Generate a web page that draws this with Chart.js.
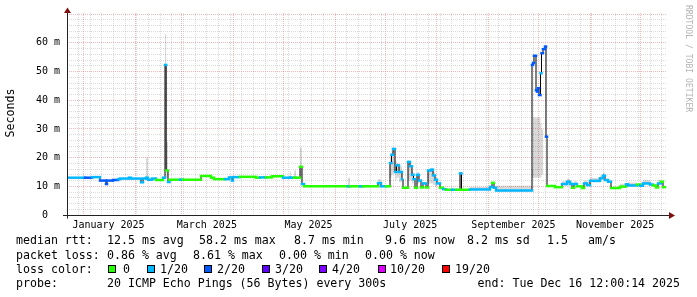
<!DOCTYPE html>
<html><head><meta charset="utf-8">
<script src="https://cdn.jsdelivr.net/npm/chart.js@4/dist/chart.umd.min.js"></script>
<style>html,body{margin:0;padding:0;background:#fff;}canvas{display:block;}</style>
</head><body>
<canvas id="c" width="697" height="297"></canvas>
<script>
// ---------- data (x in days since 2025-01-01, values in ms) ----------
const xMin = -9.9, xMax = 350.1, lastDay = 348.9;
const days = [
  -9.9, 0.9, 5.1, 9.9, 13.5, 14.1, 17.7, 20.7, 21.9, 27.3,
  28.5, 34.5, 35.7, 37.5, 38.7, 41.1, 43.5, 47.7, 48.9, 49.6,
  50.7, 51.6, 57.9, 59.7, 70.5, 76.5, 78.3, 84.9, 87.3, 89.1,
  89.7, 93.9, 103.5, 105.9, 109.5, 113.1, 119.7, 123.9, 124.5, 126.3,
  127.5, 129.9, 131.1, 132.3, 158.7, 159.9, 165.9, 167.7, 176.7, 178.5,
  181.5, 183.9, 184.8, 185.7, 186.9, 187.8, 189.3, 191.1, 191.7, 194.7,
  195.9, 197.1, 198.0, 198.9, 200.1, 201.3, 202.5, 203.7, 205.5, 206.7,
  208.5, 209.7, 210.9, 212.1, 213.9, 215.7, 217.5, 221.1, 223.5, 225.9,
  226.8, 231.9, 243.9, 245.1, 246.3, 247.5, 269.1, 269.7, 270.3, 271.5,
  272.1, 272.7, 273.3, 274.2, 274.8, 275.7, 276.9, 277.5, 278.1, 282.9,
  287.1, 290.1, 291.9, 293.1, 294.3, 296.1, 299.1, 300.3, 302.1, 303.9,
  309.9, 311.7, 312.9, 314.7, 316.5, 321.9, 325.5, 326.7, 332.1, 333.9,
  335.7, 339.9, 341.7, 343.5, 344.7, 346.5, 347.7
];
const medianMs = [
  13.0, 13.0, 13.2, 12.0, 10.8, 12.0, 12.2, 12.5, 12.7, 13.0,
  12.7, 11.4, 12.7, 13.0, 12.3, 12.7, 12.2, 13.0, 52.3, 15.5,
  11.5, 12.3, 12.3, 12.3, 13.6, 13.0, 12.5, 12.5, 13.1, 12.0,
  13.2, 13.3, 13.0, 13.1, 13.1, 13.5, 13.0, 13.0, 13.0, 13.0,
  13.0, 16.8, 10.8, 10.0, 10.0, 10.0, 10.0, 10.0, 11.1, 10.0,
  10.0, 18.1, 21.0, 23.0, 15.0, 17.3, 15.0, 12.5, 9.5, 18.5,
  17.0, 14.0, 12.5, 9.5, 14.0, 12.0, 9.6, 11.0, 9.6, 15.5,
  15.8, 13.8, 12.3, 11.0, 9.5, 9.0, 8.8, 8.8, 8.8, 14.5,
  8.8, 8.9, 9.8, 11.2, 9.5, 8.5, 52.3, 53.0, 55.5, 43.5,
  43.0, 44.2, 41.8, 49.4, 56.4, 57.8, 58.7, 27.3, 10.1, 9.7,
  10.8, 11.6, 10.8, 9.5, 10.8, 10.0, 9.4, 11.0, 10.4, 11.9,
  12.8, 13.7, 12.2, 11.6, 9.4, 9.9, 10.7, 10.3, 10.6, 10.2,
  11.0, 10.6, 10.3, 9.6, 11.0, 11.6, 9.7
];
// index into lossLabels / lossColors
const lossIdx = [
  1,2,1,2,2,2,2,1,1,1,
  1,1,1,1,1,1,0,1,1,0,
  1,0,1,0,0,0,0,1,1,1,
  1,0,0,1,0,0,1,1,1,0,
  0,0,1,0,1,0,1,0,1,1,
  0,1,1,1,1,1,1,1,0,1,
  1,1,1,0,1,1,0,1,0,1,
  1,1,1,1,0,1,0,1,0,1,
  0,1,1,0,1,1,2,2,2,2,
  2,2,2,1,2,2,2,2,0,0,
  1,1,1,0,1,0,0,1,1,1,
  1,1,1,1,0,0,1,1,0,1,
  1,1,0,0,1,0,0
];
const n = null;
// smoke (spread of the 20 pings); null = no visible spread
const smokeLo = [
  n,n,n,n,n,n,n,n,n,n,
  n,n,n,12.5,n,n,n,n,15.0,13.0,
  n,n,n,n,n,n,n,n,n,n,
  n,n,n,n,n,n,n,12.6,n,12.6,
  n,13.0,n,n,9.7,n,n,n,10.0,n,
  n,13.0,14.0,15.0,12.0,13.0,11.5,n,n,12.0,
  12.0,11.0,n,n,11.0,n,n,n,n,11.0,
  11.0,10.5,10.0,n,n,n,n,n,n,9.0,
  n,8.5,n,n,n,8.3,13.0,13.0,13.0,13.0,
  13.0,13.0,13.0,13.0,14.0,n,n,n,n,n,
  10.3,11.1,10.3,n,10.3,n,n,10.5,10.0,11.4,
  12.3,13.2,n,n,n,9.5,n,9.9,n,9.8,
  10.5,n,n,n,10.5,n,n
];
const smokeHi = [
  n,n,n,n,n,n,n,n,n,n,
  n,n,n,20.0,n,n,n,n,63.0,25.5,
  n,n,n,n,n,n,n,n,n,n,
  n,n,n,n,n,n,n,15.2,n,15.5,
  n,23.4,n,n,13.0,n,n,n,12.5,n,
  n,21.0,22.0,23.5,19.0,18.0,17.0,n,n,19.0,
  17.5,15.0,n,n,15.0,n,n,n,n,16.0,
  16.5,15.0,13.0,n,n,n,n,n,n,15.0,
  n,9.8,n,n,n,10.2,16.0,34.0,34.0,34.0,
  34.0,34.0,34.0,32.0,30.0,n,n,n,n,n,
  11.8,12.6,11.8,n,11.8,n,n,12.0,11.4,12.9,
  13.8,14.7,n,n,n,10.9,n,11.3,n,11.2,
  12.2,n,n,n,12.2,n,n
];
const lossLabels = ['0','1/20','2/20','3/20','4/20','10/20','19/20'];
const lossColors = ['#26ff00','#00b8ff','#0059ff','#5e00ff','#7e00ff','#dd00ff','#ff0000'];
const monthStarts = [0,31,59,90,120,151,181,212,243,273,304,334];
const monthLabelDays = [15,74,135,196,258,319];
const monthLabels = ['January 2025','March 2025','May 2025','July 2025','September 2025','November 2025'];
const yMax = 70.4;
const yTickValues = [0,2,4,6,8,10,12,14,16,18,20,22,24,26,28,30,32,34,36,38,40,42,44,46,48,50,52,54,56,58,60,62,64,66,68,70];
const yLabels = {0:'0  ',10:'10 m',20:'20 m',30:'30 m',40:'40 m',50:'50 m',60:'60 m'};
const legendRtt = [[16,'median rtt:'],[107,'12.5 ms avg'],[199,'58.2 ms max'],[294,'8.7 ms min'],[385,'9.6 ms now'],[467,'8.2 ms sd'],[547,'1.5'],[588,'am/s']];
const legendLoss = [[16,'packet loss:'],[107,'0.86 % avg'],[193,'8.61 % max'],[279,'0.00 % min'],[365,'0.00 % now']];
const lossBoxX = [108,147,204,262,319,378,442];
const lossTextX = [123,160,217,275,332,390,455];
const probeText = '20 ICMP Echo Pings (56 Bytes) every 300s';
const endText = 'end: Tue Dec 16 12:00:14 2025';

// weekly grid (Sundays) + monthly grid
const weekDays = [];
for (let d = 4 - 14; d <= xMax; d += 7) if (d >= xMin) weekDays.push(d);
const gridDays = [...new Set(weekDays.concat(monthStarts))].sort((a,b)=>a-b);

// ---------- build library data ----------
const N = days.length;
const stepPts = arr => { const p = days.map((d,i)=>({x:d, y:arr[i]})); p.push({x:lastDay, y:arr[N-1]}); return p; };
const fillNull = arr => arr.map((v,i)=> v == null ? medianMs[i] : v);
const colorPts = [];
for (let i = 0; i < N; i++) {
  const x1 = i + 1 < N ? days[i+1] : lastDay;
  colorPts.push({x:days[i], y:medianMs[i]}, {x:x1, y:medianMs[i]}, {x:x1, y:null});
}

const MONO = '"DejaVu Sans Mono", monospace';
const RED = 'rgba(215,60,60,0.36)', GRAY = 'rgba(120,120,120,0.27)';

const deco = {
  id: 'deco',
  beforeDraw(chart) {
    const c = chart.ctx; c.save(); c.fillStyle = '#fff'; c.fillRect(0,0,chart.width,chart.height); c.restore();
  },
  afterDraw(chart) {
    const c = chart.ctx, a = chart.chartArea;
    c.save();
    const ax = Math.round(a.left) + 0.5, ay = Math.round(a.bottom) + 0.5;
    c.strokeStyle = '#222'; c.lineWidth = 1;
    c.beginPath(); c.moveTo(a.left - 4, ay); c.lineTo(a.right + 3, ay); c.stroke();
    c.beginPath(); c.moveTo(ax, ay + 3); c.lineTo(ax, a.top - 1); c.stroke();
    c.fillStyle = '#7f1010';
    c.beginPath(); c.moveTo(ax, a.top - 5.5); c.lineTo(ax - 3.5, a.top); c.lineTo(ax + 3.5, a.top); c.closePath(); c.fill();
    c.beginPath(); c.moveTo(a.right + 8, ay); c.lineTo(a.right + 2, ay - 3.5); c.lineTo(a.right + 2, ay + 3.5); c.closePath(); c.fill();
    // y title
    c.fillStyle = '#000'; c.font = '11.6px ' + MONO; c.textBaseline = 'middle'; c.textAlign = 'center';
    c.save(); c.translate(10.5, 113); c.rotate(-Math.PI/2); c.fillText('Seconds', 0, 0); c.restore();
    // watermark
    c.save(); c.fillStyle = '#b4b4b4'; c.font = '8.1px ' + MONO; c.textAlign = 'left';
    c.translate(688, 5); c.rotate(Math.PI/2); c.fillText('RRDTOOL / TOBI OETIKER', 0, 0); c.restore();
    // legend
    c.font = '11.6px ' + MONO; c.textAlign = 'left'; c.fillStyle = '#000';
    legendRtt.forEach(([x,t]) => c.fillText(t, x, 241));
    legendLoss.forEach(([x,t]) => c.fillText(t, x, 255.5));
    c.fillText('loss color:', 16, 269.5);
    lossLabels.forEach((t,i) => {
      c.fillStyle = lossColors[i]; c.fillRect(lossBoxX[i], 265, 8, 8);
      c.strokeStyle = '#000'; c.strokeRect(lossBoxX[i] + 0.5, 265.5, 7, 7);
      c.fillStyle = '#000'; c.fillText(t, lossTextX[i], 269.5);
    });
    c.fillText('probe:', 16, 284);
    c.fillText(probeText, 107, 284);
    c.textAlign = 'right'; c.fillText(endText, 680, 284);
    c.restore();
  }
};

new Chart(document.getElementById('c'), {
  type: 'line',
  data: { datasets: [
    { label:'median by loss', data: colorPts, xAxisID:'x', yAxisID:'y', borderWidth:2.5, borderColor:'#00b8ff',
      borderCapStyle:'square', spanGaps:false, pointRadius:0, fill:false, order:0,
      segment: { borderColor: ctx => lossColors[lossIdx[Math.floor(ctx.p0DataIndex/3)]] } },
    { label:'median', data: stepPts(medianMs), xAxisID:'x', yAxisID:'y', stepped:true, borderColor:'#000', borderWidth:1, pointRadius:0, fill:false, order:1 },
    { label:'smoke hi', data: stepPts(fillNull(smokeHi)), xAxisID:'x', yAxisID:'y', stepped:true, borderWidth:0, borderColor:'rgba(0,0,0,0)',
      backgroundColor:'rgba(0,0,0,0.15)', fill:'+1', pointRadius:0, order:2 },
    { label:'smoke lo', data: stepPts(fillNull(smokeLo)), xAxisID:'x', yAxisID:'y', stepped:true, borderWidth:0, borderColor:'rgba(0,0,0,0)', pointRadius:0, fill:false, order:3 }
  ]},
  options: {
    responsive:false, animation:false, devicePixelRatio:1, events:[],
    layout: { padding: { left:0, right:30, top:13, bottom:0 } },
    plugins: { legend:{display:false}, tooltip:{enabled:false}, title:{display:false} },
    scales: {
      x: { type:'linear', axis:'x', position:'bottom', weight:0, min:xMin, max:xMax,
        afterBuildTicks: s => { s.ticks = gridDays.map(v => ({value:v})); },
        afterFit: s => { s.height = 0; s.paddingLeft = 0; s.paddingRight = 0; },
        ticks: { display:false, autoSkip:false },
        grid: { drawTicks:false, lineWidth:1, color: c => (c.tick && monthStarts.includes(c.tick.value)) ? RED : GRAY },
        border: { display:false, dash:[1,1] } },
      xl: { type:'linear', axis:'x', position:'bottom', weight:1, min:xMin, max:xMax,
        afterBuildTicks: s => { s.ticks = monthLabelDays.map(v => ({value:v})); },
        afterFit: s => { s.height = 82; s.paddingLeft = 0; s.paddingRight = 0; },
        ticks: { autoSkip:false, maxRotation:0, padding:-4, color:'#000', font:{family:MONO, size:10},
          callback: (v,i) => monthLabels[i] },
        grid: { display:false }, border: { display:false } },
      y: { type:'linear', position:'left', min:0, max:yMax,
        afterBuildTicks: s => { s.ticks = yTickValues.map(v => ({value:v})); },
        afterFit: s => { s.width = 67; s.paddingTop = 0; s.paddingBottom = 0; },
        ticks: { autoSkip:false, padding:7, color:'#000', font:{family:MONO, size:10},
          callback: v => yLabels[v] || '' },
        grid: { drawTicks:false, lineWidth:1, color: c => (c.tick && c.tick.value % 10 === 0) ? RED : GRAY },
        border: { display:false, dash:[1,1] } }
    }
  },
  plugins: [deco]
});
</script>
</body></html>
